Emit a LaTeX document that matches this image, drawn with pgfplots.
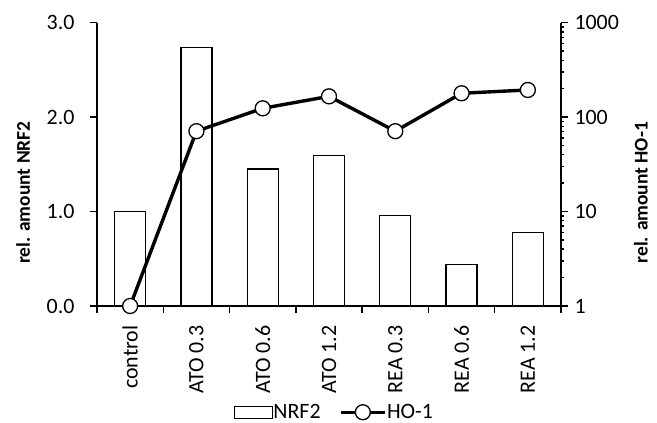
\documentclass[border=0pt]{standalone}
\usepackage{fontspec}
\setmainfont{Carlito}
\usepackage{pgfplots}
\pgfplotsset{compat=1.18}
\pgfplotsset{
  boxlegend/.style={legend image code/.code={\draw[black, line width=1.2bp, fill=white] (0bp,-6bp) rectangle (38bp,6bp);}},
  linelegend/.style={legend image code/.code={\draw[##1, mark repeat=2, mark phase=2] plot coordinates {(0bp,0bp) (22bp,0bp) (44bp,0bp)};}},
}
\begin{document}
\begin{tikzpicture}[font=\fontsize{22}{25}\selectfont]
\path[use as bounding box] (0,0) rectangle (657bp,423bp);
\begin{axis}[
  at={(97bp,117bp)}, anchor=south west,
  scale only axis, width=464bp, height=283.3bp,
  xmin=-0.5, xmax=6.5, ymin=0, ymax=3,
  axis x line*=bottom, axis y line*=left,
  axis line style={-, line width=1.6bp},
  tick style={line width=1.4bp, black},
  tick align=outside,
  major tick length=7bp, minor tick length=7bp,
  xtick={0,1,2,3,4,5,6},
  major x tick style={draw=none},
  minor xtick={-0.5,0.5,1.5,2.5,3.5,4.5,5.5,6.5},
  xticklabels={control, ATO 0.3, ATO 0.6, ATO 1.2, REA 0.3, REA 0.6, REA 1.2},
  x tick label style={rotate=90, anchor=east, xshift=-9bp},
  ytick={0,1,2,3},
  yticklabels={0.0,1.0,2.0,3.0},
  y tick label style={xshift=-12bp},
  ylabel={\fontsize{19.5}{23}\selectfont\bfseries rel. amount NRF2},
  ylabel style={at={(axis description cs:-0.159,0.40)}, anchor=center, rotate=0},
]
\addplot[ybar, bar width=31bp, bar shift=0pt, draw=black, fill=white, line width=1.2bp]
  coordinates {(0,1.00) (1,2.74) (2,1.45) (3,1.59) (4,0.96) (5,0.44) (6,0.775)};
\end{axis}
\begin{axis}[
  at={(97bp,117bp)}, anchor=south west,
  scale only axis, width=464bp, height=283.3bp,
  xmin=-0.5, xmax=6.5, ymode=log, ymin=1, ymax=1000,
  axis x line=none, axis y line*=right,
  axis line style={-, line width=1.6bp},
  tick style={line width=1.4bp, black},
  tick align=outside, major tick length=7bp,
  ytick={1,10,100,1000}, yticklabels={1,10,100,1000},
  minor ytick={},
  y tick label style={xshift=3bp},
  ylabel={\fontsize{19.5}{23}\selectfont\bfseries rel. amount HO-1},
  ylabel style={at={(axis description cs:1.172,0.40)}, anchor=center, rotate=0},
  legend columns=2,
  legend style={draw=none, fill=none, at={(axis description cs:0.51,-0.375)}, anchor=center,
    /tikz/every even column/.append style={column sep=18bp},
    nodes={inner sep=0.5bp}},
]
\addlegendimage{boxlegend}
\addlegendentry{NRF2}
\addplot[black, line width=3.4bp, mark=*, mark size=7.5bp,
  mark options={fill=white, draw=black, line width=1.3bp}, linelegend]
  coordinates {(0,1) (1,71) (2,124) (3,166) (4,71) (5,179) (6,194)};
\addlegendentry{HO-1}
\end{axis}
\end{tikzpicture}
\end{document}
